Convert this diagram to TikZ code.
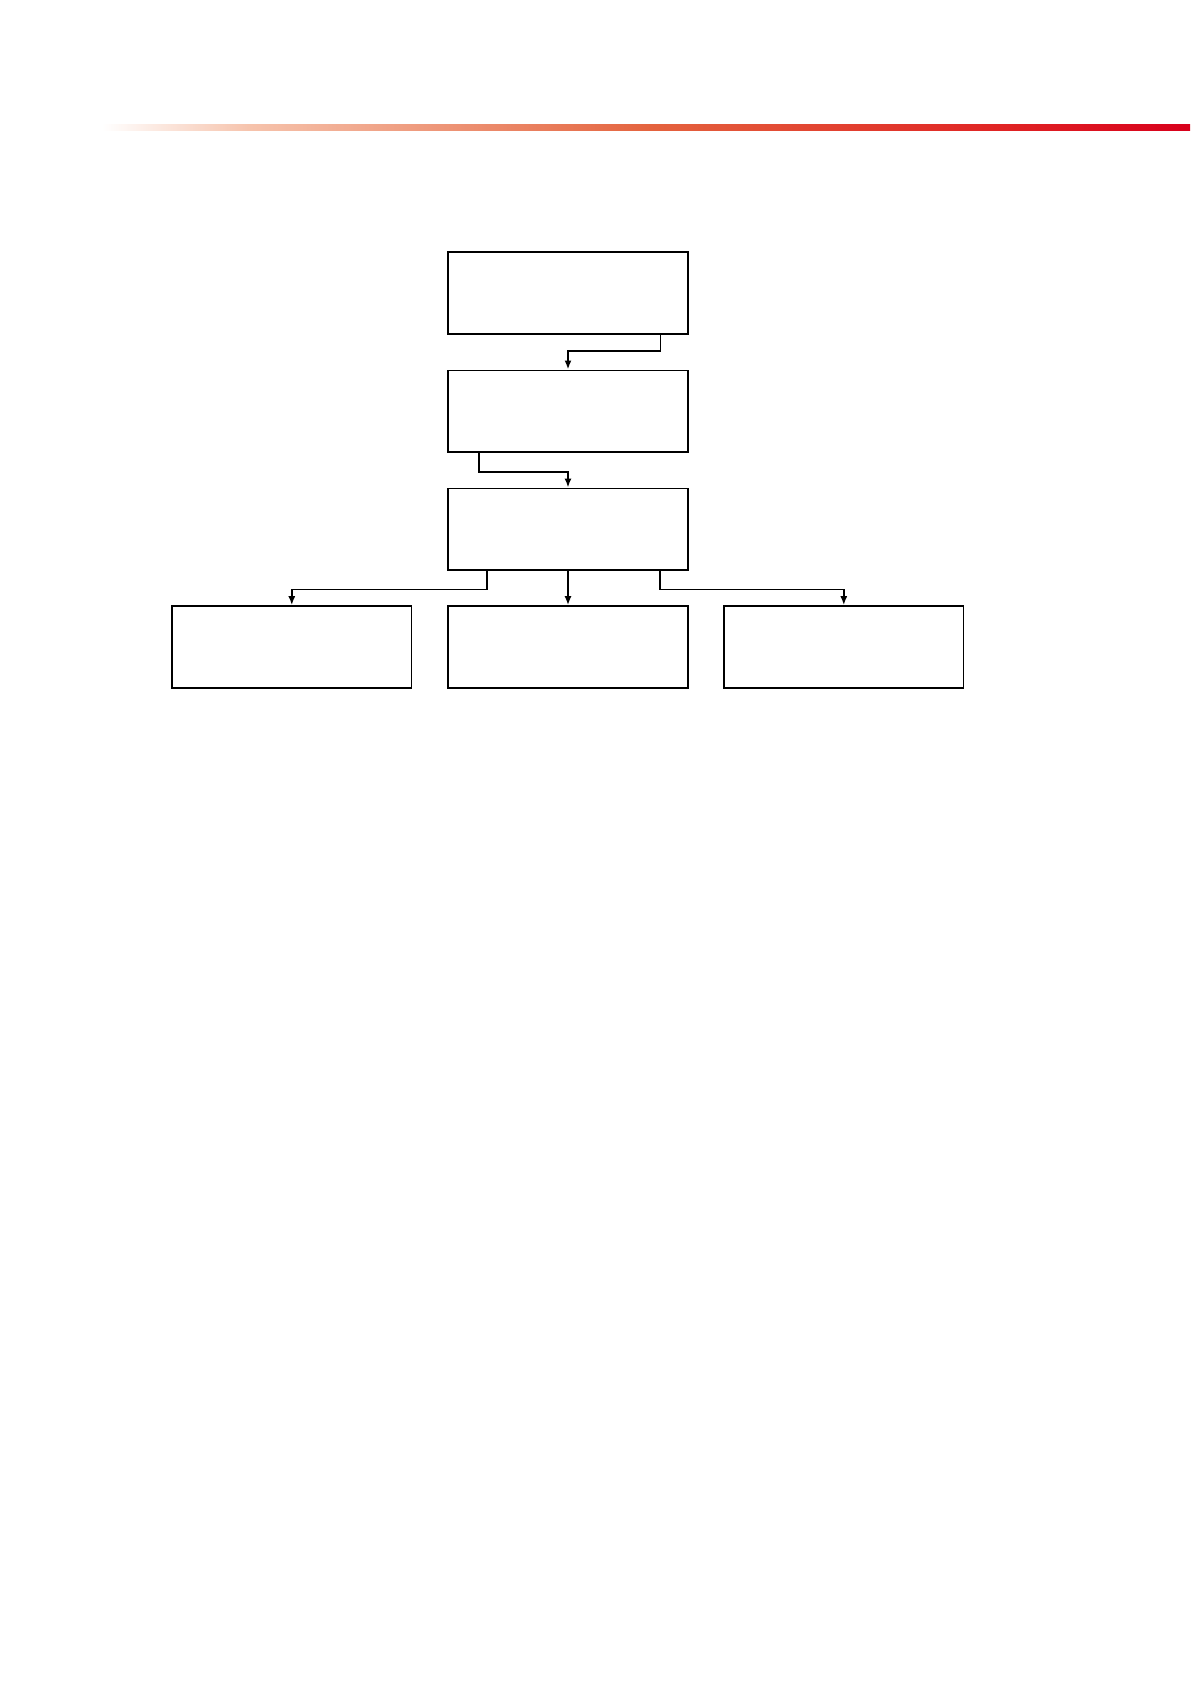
\documentclass[tikz,border=0pt]{standalone}
\usetikzlibrary{arrows.meta}
\definecolor{g0}{HTML}{FFFFFF}
\definecolor{g1}{HTML}{F6C3AC}
\definecolor{g2}{HTML}{E4633E}
\definecolor{g3}{HTML}{E02424}
\definecolor{g4}{HTML}{D8001C}
\tikzset{
  box/.style={draw=black, line width=1.8pt, fill=white, rectangle,
    minimum width=239.4pt, minimum height=81.6pt, inner sep=0pt},
  arr/.style={draw=black, line width=1.8pt, -{Latex[length=9pt,width=7pt]}},
  barseg/.style={draw=none}
}
\begin{document}
\begin{tikzpicture}[x=1pt,y=-1pt]
\useasboundingbox[fill=white] (0,0) rectangle (1191,1684);
% gradient bar
\shade[barseg, left color=g0, right color=g1] (102,124) rectangle (250.5,130.5);
\shade[barseg, left color=g1, right color=g2] (250,124) rectangle (650.5,130.5);
\shade[barseg, left color=g2, right color=g3] (650,124) rectangle (1000.5,130.5);
\shade[barseg, left color=g3, right color=g4] (1000,124) rectangle (1190,130.5);
% boxes
\node[box] (b1) at (568,293.1) {};
\node[box] (b2) at (568,411.2) {};
\node[box] (b3) at (568,529.3) {};
\node[box] (b4) at (291.8,646.9) {};
\node[box] (b5) at (568,646.9) {};
\node[box] (b6) at (843.8,646.9) {};
% connectors
\draw[arr] ([xshift=92.5pt]b1.south) -- ++(0,16.5) -| (b2.north);
\draw[arr] ([xshift=-89pt]b2.south) -- ++(0,19.3) -| (b3.north);
\draw[arr] ([xshift=-81pt]b3.south) -- ++(0,18.5) -| (b4.north);
\draw[arr] (b3.south) -- (b5.north);
\draw[arr] ([xshift=92pt]b3.south) -- ++(0,18.5) -| (b6.north);
\end{tikzpicture}
\end{document}
